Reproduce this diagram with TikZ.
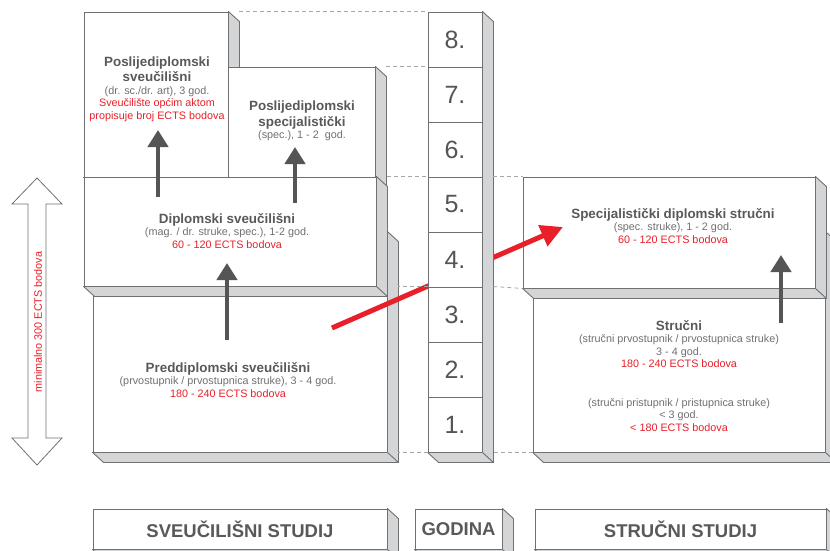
\documentclass[tikz,border=0pt]{standalone}
\usepackage{fontspec}
\setmainfont{Liberation Sans}
\usetikzlibrary{arrows.meta}

\definecolor{txtgray}{HTML}{595959}
\definecolor{subgray}{HTML}{707070}
\definecolor{ectsred}{HTML}{E8202A}
\definecolor{edge}{HTML}{707070}
\definecolor{sidegray}{HTML}{D4D5D7}
\definecolor{arrowgray}{HTML}{555555}

\tikzset{
  front/.style={rectangle, draw=edge, fill=white, line width=0.9pt, inner sep=0pt},
  face/.style={draw=edge, fill=sidegray, line width=0.9pt, line join=round},
  guide/.style={draw=gray!70, line width=0.8pt, dash pattern=on 4pt off 3pt},
  info/.style={align=center, inner sep=0pt, text=subgray, font=\fontsize{10.8}{12.5}\selectfont},
  up/.style={draw=arrowgray, line width=4.5pt, -{Triangle[width=20pt,length=17pt]}},
  leap/.style={draw=ectsred, line width=5pt, -{Triangle[width=22pt,length=22pt]}},
  year/.style={front, minimum width=54pt, minimum height=55pt, text=arrowgray, font=\fontsize{25}{25}\selectfont},
  caption/.style={front, minimum height=40pt, text=txtgray, font=\fontsize{18.5}{20}\selectfont\bfseries},
}

\newcommand{\ttl}[1]{{\fontsize{13.4}{14.5}\selectfont\bfseries\color{txtgray}#1}}
\newcommand{\ects}[1]{{\color{ectsred}#1}}
% gray side and bottom faces, from #1.north east down to #2.south
\newcommand{\slabsides}[2]{%
  \path[face] (#1.north east) -- ++(11,10) -- ([shift={(11,10)}]#2.south east)
    -- ([shift={(11,10)}]#2.south west) -- (#2.south west) -- (#2.south east) -- cycle;
  \draw[face] (#2.south east) -- ++(11,10);
}

\begin{document}
\begin{tikzpicture}[x=1pt,y=-1pt]
    \useasboundingbox (0,0) rectangle (830,551);

    % Blocks
    \node (pred) at (240,342) [front, minimum width=294pt, minimum height=220pt] {};
    \slabsides{pred}{pred}
    \node (psveu) at (156,94.5) [front, minimum width=144pt, minimum height=165pt] {};
    \slabsides{psveu}{psveu}
    \node (pspec) at (301.5,122) [front, minimum width=147pt, minimum height=110pt] {};
    \slabsides{pspec}{pspec}
    \node (dipl) at (230,231.5) [front, minimum width=292pt, minimum height=109pt] {};
    \slabsides{dipl}{dipl}
    \node (struc) at (679,342) [front, minimum width=292pt, minimum height=220pt] {};
    \slabsides{struc}{struc}
    \node (sspec) at (669,232.5) [front, minimum width=292pt, minimum height=111pt] {};
    \slabsides{sspec}{sspec}

    % Texts
    \node (tpsveu) at (157,89) [info] {\ttl{Poslijediplomski}\\[1.5pt] \ttl{sveučilišni}\\ (dr. sc./dr. art), 3 god.\\ \ects{Sveučilište općim aktom}\\ \ects{propisuje broj ECTS bodova}};
    \node (tpspec) at (302,121) [info] {\ttl{Poslijediplomski}\\[1.5pt] \ttl{specijalistički}\\ (spec.), 1 - 2~ god.};
    \node (tdipl) at (227,231) [info] {\ttl{Diplomski sveučilišni}\\ (mag. / dr. struke, spec.), 1-2 god.\\ \ects{60 - 120 ECTS bodova}};
    \node (tpred) at (228,380) [info] {\ttl{Preddiplomski sveučilišni}\\ (prvostupnik / prvostupnica struke), 3 - 4 god.\\ \ects{180 - 240 ECTS bodova}};
    \node (tsspec) at (673,226) [info] {\ttl{Specijalistički diplomski stručni}\\ (spec. struke), 1 - 2 god.\\ \ects{60 - 120 ECTS bodova}};
    \node (tstruc) at (679,344) [info] {\ttl{Stručni}\\ (stručni prvostupnik / prvostupnica struke)\\ 3 - 4 god.\\ \ects{180 - 240 ECTS bodova}};
    \node (tstruc2) at (679,415) [info] {(stručni pristupnik / pristupnica struke)\\ < 3 god.\\ \ects{< 180 ECTS bodova}};

    % Red arrow
    \coordinate (r1) at (332,328);
    \coordinate (r2) at (563,227);
    \draw[leap] (r1) -- (r2);

    % Years
    \foreach \n in {1,...,8}
        \node (c\n) at (455,{452-55*(\n-0.5)}) [year] {\n.};
    \slabsides{c8}{c1}

    % Guides
    \draw[guide] ([xshift=11pt]psveu.north east) -- (c8.north west);
    \draw[guide] ([xshift=11pt]pspec.north east) -- (c7.north west);
    \draw[guide] ([xshift=11pt]dipl.north east) -- (c5.north west);
    \draw[guide] ([xshift=11pt]c5.north east) -- (sspec.north west);
    \draw[guide] (c3.north west) -- ++(-30,0);
    \draw[guide] ([xshift=11pt]c3.north east) -- (sspec.south west);
    \draw[guide] (c1.south west) -- ++(-30,0);
    \draw[guide] (struc.south west) -- ++(-40,0);

    % Gray arrows
    \coordinate (a1) at (158,197);
    \coordinate (b1) at (158,130);
    \coordinate (a2) at (295,203);
    \coordinate (b2) at (295,147);
    \coordinate (a3) at (227,340);
    \coordinate (b3) at (227,263);
    \coordinate (a4) at (781,323);
    \coordinate (b4) at (781,255);
    \draw[up] (a1) -- (b1);
    \draw[up] (a2) -- (b2);
    \draw[up] (a3) -- (b3);
    \draw[up] (a4) -- (b4);

    % Span of the whole study
    \draw[draw=edge, fill=white, line width=0.8pt] (37,178) -- (62,204) -- (46,204) -- (46,438)
        -- (62,438) -- (37,465) -- (12,438) -- (28,438) -- (28,204) -- (12,204) -- cycle;
    \node (span) at (38,322) [info, rotate=90, text=ectsred] {minimalno 300 ECTS bodova};

    % Captions
    \node (lsveu) at (240,529) [caption, minimum width=294pt] {SVEUČILIŠNI STUDIJ};
    \slabsides{lsveu}{lsveu}
    \node (lgod) at (458.5,529) [caption, minimum width=87pt] {GODINA};
    \slabsides{lgod}{lgod}
    \node (lstr) at (680.5,529) [caption, minimum width=291pt] {STRUČNI STUDIJ};
    \slabsides{lstr}{lstr}
\end{tikzpicture}
\end{document}
